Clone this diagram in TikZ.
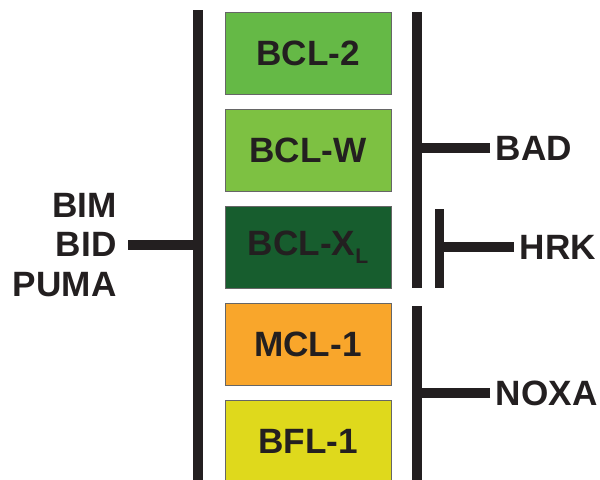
\documentclass[tikz,border=0pt]{standalone}
\usepackage{fontspec}
\setmainfont{Liberation Sans}
\usetikzlibrary{positioning}
\definecolor{ink}{HTML}{231F20}
\definecolor{bcltwo}{HTML}{65B946}
\definecolor{bclw}{HTML}{7DC142}
\definecolor{bclxl}{HTML}{175D2E}
\definecolor{mclone}{HTML}{F9A62B}
\definecolor{bflone}{HTML}{DFD91C}
\tikzset{
    protbox/.style = {rectangle, draw=black!60, line width=0.6pt, minimum width=4.15cm, minimum height=2.05cm, align=center, font=\fontsize{25}{28}\selectfont\bfseries, text=ink},
    lbl/.style = {inner sep=4pt, align=right, font=\fontsize{25}{28}\selectfont\bfseries, text=ink},
    barline/.style = {-, line width=7pt, ink}
}

\begin{document}
\begin{tikzpicture}[x=0.025cm, y=-0.025cm]
\useasboundingbox (0,0) rectangle (600,480);
\clip (0,0) rectangle (600,480);
% anti-apoptotic proteins
\node[protbox, fill=bcltwo] at (308, 53.0) (bcl2) {BCL-2};
\node[protbox, fill=bclw] at (308, 150.0) (bclw) {BCL-W};
\node[protbox, fill=bclxl] at (308, 247.5) (bclxl) {BCL-X\raisebox{-0.45ex}{\fontsize{15}{15}\selectfont L}};
\node[protbox, fill=mclone] at (308, 344.5) (mcl1) {MCL-1};
\node[protbox, fill=bflone] at (308, 441.5) (bfl1) {BFL-1};
% bars
\coordinate (ltop) at (198, 10);
\coordinate (lbot) at (198, 490);
\coordinate (rtop) at (417, 12);
\coordinate (rmid) at (417, 288);
\coordinate (rlow) at (417, 306);
\coordinate (rbot) at (417, 490);
\coordinate (htop) at (439.5, 209);
\coordinate (hbot) at (439.5, 288);
\draw[barline] (ltop) -- (lbot);
\draw[barline] (rtop) -- (rmid);
\draw[barline] (rlow) -- (rbot);
\draw[barline] (htop) -- (hbot);
% BH3-only proteins
\node[lbl, anchor=east, inner xsep=8pt] at (128, 245) (bh3) {BIM\\BID\\PUMA};
\node[lbl, anchor=west] at (490, 148) (bad) {BAD};
\node[lbl, anchor=west] at (514, 247) (hrk) {HRK};
\node[lbl, anchor=west] at (490, 393) (noxa) {NOXA};
\draw[barline] (bh3.east) -- (bh3.east -| ltop);
\draw[barline] (bad.west) -- (bad.west -| rtop);
\draw[barline] (hrk.west) -- (hrk.west -| htop);
\draw[barline] (noxa.west) -- (noxa.west -| rlow);
\end{tikzpicture}
\end{document}
